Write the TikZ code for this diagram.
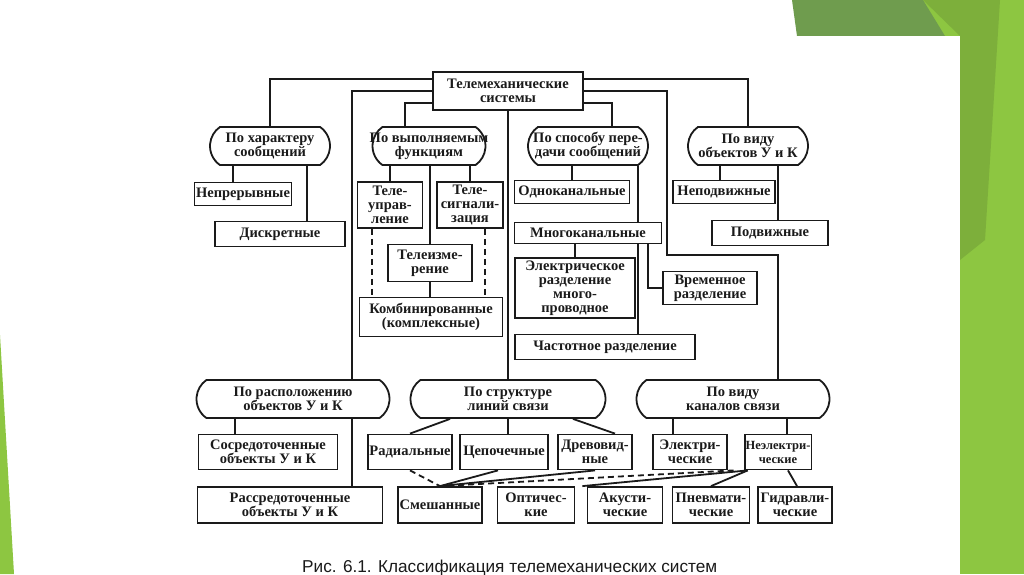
\documentclass[tikz,border=0pt]{standalone}
\usepackage{fontspec}
\setmainfont{Liberation Serif}
\newfontfamily\capfont{Liberation Sans}
\usetikzlibrary{shapes.misc}

\definecolor{slidegreen}{HTML}{8DC641}
\definecolor{slidedark}{HTML}{6F9C4E}
\definecolor{slidemid}{HTML}{7DAF3B}
\definecolor{ink}{HTML}{1A1A1A}

\tikzset{
  box/.style={draw=ink, text=ink, line width=1.8pt, inner sep=1pt, align=center,
    font=\bfseries\fontsize{14.5}{14}\selectfont},
  group/.style={box, rounded rectangle, rounded rectangle arc length=110,
    inner xsep=-7pt, minimum height=38pt},
  link/.style={draw=ink, line width=1.8pt},
  dashlink/.style={link, dash pattern=on 6pt off 4pt},
}

\begin{document}
\begin{tikzpicture}[x=1pt,y=-1pt]
  % slide background
  \useasboundingbox[fill=white] (0,0) rectangle (1024,574);
  \fill[slidegreen] (923,0) rectangle (1024,574);
  \fill[slidemid] (923,0) -- (1000,0) -- (985,240) -- (960,260) -- (960,36) -- cycle;
  \fill[slidedark] (792,0) -- (923,0) -- (945,36) -- (797,36) -- cycle;
  \fill[white] (0,36) rectangle (960,574);
  \fill[slidegreen] (0,335) -- (14,574) -- (0,574) -- cycle;

  % top level
  \node[box, minimum width=150pt, minimum height=38pt] (root) at (508,91) {Телемеханические\\системы};

  \node[group, minimum width=106pt] (khar) at (270,146) {По характеру\\сообщений};
  \node[group, minimum width=108pt] (func) at (429,146) {По выполняемым\\функциям};
  \node[group, minimum width=106pt] (sposob) at (588,146) {По способу пере-\\дачи сообщений};
  \node[group, minimum width=106pt] (vidobj) at (748,146) {По виду\\объектов У и К};

  \node[group, minimum width=179pt] (raspol) at (293,399) {По расположению\\объектов У и К};
  \node[group, minimum width=181pt] (struct) at (508,399) {По структуре\\линий связи};
  \node[group, minimum width=179pt] (kanal) at (733,399) {По виду\\каналов связи};

  % messages
  \node[box, minimum width=97pt, minimum height=23pt] (nepr) at (243,194) {Непрерывные};
  \node[box, minimum width=130pt, minimum height=25pt] (diskr) at (280,234) {Дискретные};

  % functions
  \node[box, minimum width=65pt, minimum height=46pt] (upr) at (390,205) {Теле-\\управ-\\ление};
  \node[box, minimum width=66pt, minimum height=46pt] (sig) at (470,205) {Теле-\\сигнали-\\зация};
  \node[box, minimum width=84pt, minimum height=37pt] (izm) at (430,263) {Телеизме-\\рение};
  \node[box, minimum width=143pt, minimum height=39pt] (komb) at (431,317) {Комбинированные\\(комплексные)};

  % transmission
  \node[box, minimum width=115pt, minimum height=23pt] (odno) at (572,192) {Одноканальные};
  \node[box, minimum width=147pt, minimum height=21pt] (mnogo) at (588,233) {Многоканальные};
  \node[box, minimum width=120pt, minimum height=60pt] (elrazd) at (575,288) {Электрическое\\разделение\\много-\\проводное};
  \node[box, minimum width=94pt, minimum height=33pt] (vrem) at (710,288) {Временное\\разделение};
  \node[box, minimum width=180pt, minimum height=25pt] (chast) at (605,347) {Частотное разделение};

  % objects
  \node[box, minimum width=102pt, minimum height=23pt] (nepodv) at (724,192) {Неподвижные};
  \node[box, minimum width=116pt, minimum height=25pt] (podv) at (770,233) {Подвижные};

  % bottom rows
  \node[box, minimum width=139pt, minimum height=35pt] (sosr) at (268,452) {Сосредоточенные\\объекты У и К};
  \node[box, minimum width=185pt, minimum height=36pt] (rassr) at (290,505) {Рассредоточенные\\объекты У и К};
  \node[box, minimum width=84pt, minimum height=35pt] (radial) at (410,452) {Радиальные};
  \node[box, minimum width=88pt, minimum height=35pt] (cepoch) at (504,452) {Цепочечные};
  \node[box, minimum width=74pt, minimum height=35pt] (drevo) at (595,452) {Древовид-\\ные};
  \node[box, minimum width=74pt, minimum height=35pt] (elch) at (690,452) {Электри-\\ческие};
  \node[box, minimum width=60pt, minimum height=35pt, font=\bfseries\fontsize{12.5}{14}\selectfont] (neel) at (778,452) {Неэлектри-\\ческие};
  \node[box, minimum width=84pt, minimum height=36pt] (smesh) at (440,505) {Смешанные};
  \node[box, minimum width=77pt, minimum height=36pt] (opt) at (536,505) {Оптичес-\\кие};
  \node[box, minimum width=75pt, minimum height=36pt] (akust) at (625,505) {Акусти-\\ческие};
  \node[box, minimum width=77pt, minimum height=36pt] (pnevm) at (711,505) {Пневмати-\\ческие};
  \node[box, minimum width=74pt, minimum height=36pt] (gidr) at (795,505) {Гидравли-\\ческие};

  \coordinate (turn) at (667,255);

  % links from the root
  \draw[link] ([yshift=-8pt]root.north west) -| (khar.north);
  \draw[link] (root.west) -| ([xshift=59pt]raspol.north);
  \draw[link] ([yshift=8pt]root.south west) -| ([xshift=-24pt]func.north);
  \draw[link] (root.south) -- (struct.north);
  \draw[link] ([yshift=-8pt]root.north east) -| (vidobj.north);
  \draw[link] ([yshift=8pt]root.south east) -| ([xshift=24pt]sposob.north);
  \draw[link] (root.east) -| (turn) -| ([xshift=45pt]kanal.north);

  % upper groups
  \draw[link] ([xshift=-37pt]khar.south) -- ([xshift=-37pt]khar.south |- nepr.north);
  \draw[link] ([xshift=37pt]khar.south) -- ([xshift=37pt]khar.south |- diskr.north);
  \draw[link] (upr.north) -- (upr.north |- func.south);
  \draw[link] (sig.north) -- (sig.north |- func.south);
  \draw[link] (izm.north) -- (izm.north |- func.south);
  \draw[link] (izm.south) -- (izm.south |- komb.north);
  \draw[dashlink] ([xshift=-18pt]upr.south) -- ([xshift=-18pt]upr.south |- komb.north);
  \draw[dashlink] ([xshift=15pt]sig.south) -- ([xshift=15pt]sig.south |- komb.north);
  \draw[link] (odno.north) -- (odno.north |- sposob.south);
  \draw[link] ([xshift=50pt]sposob.south) -- ([xshift=50pt]sposob.south |- mnogo.north);
  \draw[link] ([xshift=50pt]mnogo.south) -- ([xshift=50pt]mnogo.south |- chast.north);
  \draw[link] (elrazd.north) -- (elrazd.north |- mnogo.south);
  \draw[link] ([xshift=60pt]mnogo.south) |- (vrem.west);
  \draw[link] ([xshift=-4pt]nepodv.north) -- ([xshift=-4pt]nepodv.north |- vidobj.south);
  \draw[link] ([xshift=30pt]vidobj.south) -- ([xshift=30pt]vidobj.south |- podv.north);

  % lower groups
  \draw[link] ([xshift=-58pt]raspol.south) -- ([xshift=-58pt]raspol.south |- sosr.north);
  \draw[link] ([xshift=59pt]raspol.south) -- ([xshift=59pt]raspol.south |- rassr.north);
  \draw[link] ([xshift=-58pt]struct.south) -- (radial.north);
  \draw[link] (struct.south) -- (struct.south |- cepoch.north);
  \draw[link] ([xshift=65pt]struct.south) -- ([xshift=20pt]drevo.north);
  \draw[link] ([xshift=-60pt]kanal.south) -- ([xshift=-60pt]kanal.south |- elch.north);
  \draw[link] ([xshift=54pt]kanal.south) -- ([xshift=54pt]kanal.south |- neel.north);

  \draw[dashlink] (radial.south) -- (smesh.north);
  \draw[link] ([xshift=-6pt]cepoch.south) -- (smesh.north);
  \draw[link] (drevo.south) -- (smesh.north);
  \draw[dashlink] ([xshift=-10pt]neel.south west) -- (smesh.north);
  \draw[link] ([xshift=4pt]neel.south west) -- ([xshift=7pt]opt.north east);
  \draw[link] ([xshift=4pt]neel.south west) -- (pnevm.north);
  \draw[link] ([xshift=10pt]neel.south) -- ([xshift=2pt]gidr.north);

  % caption
  \node[anchor=base west, inner sep=0pt, text=ink, font=\capfont\fontsize{17.2}{18}\selectfont] (caption) at (302,572) {Рис. 6.1. Классификация телемеханических систем};
\end{tikzpicture}
\end{document}
